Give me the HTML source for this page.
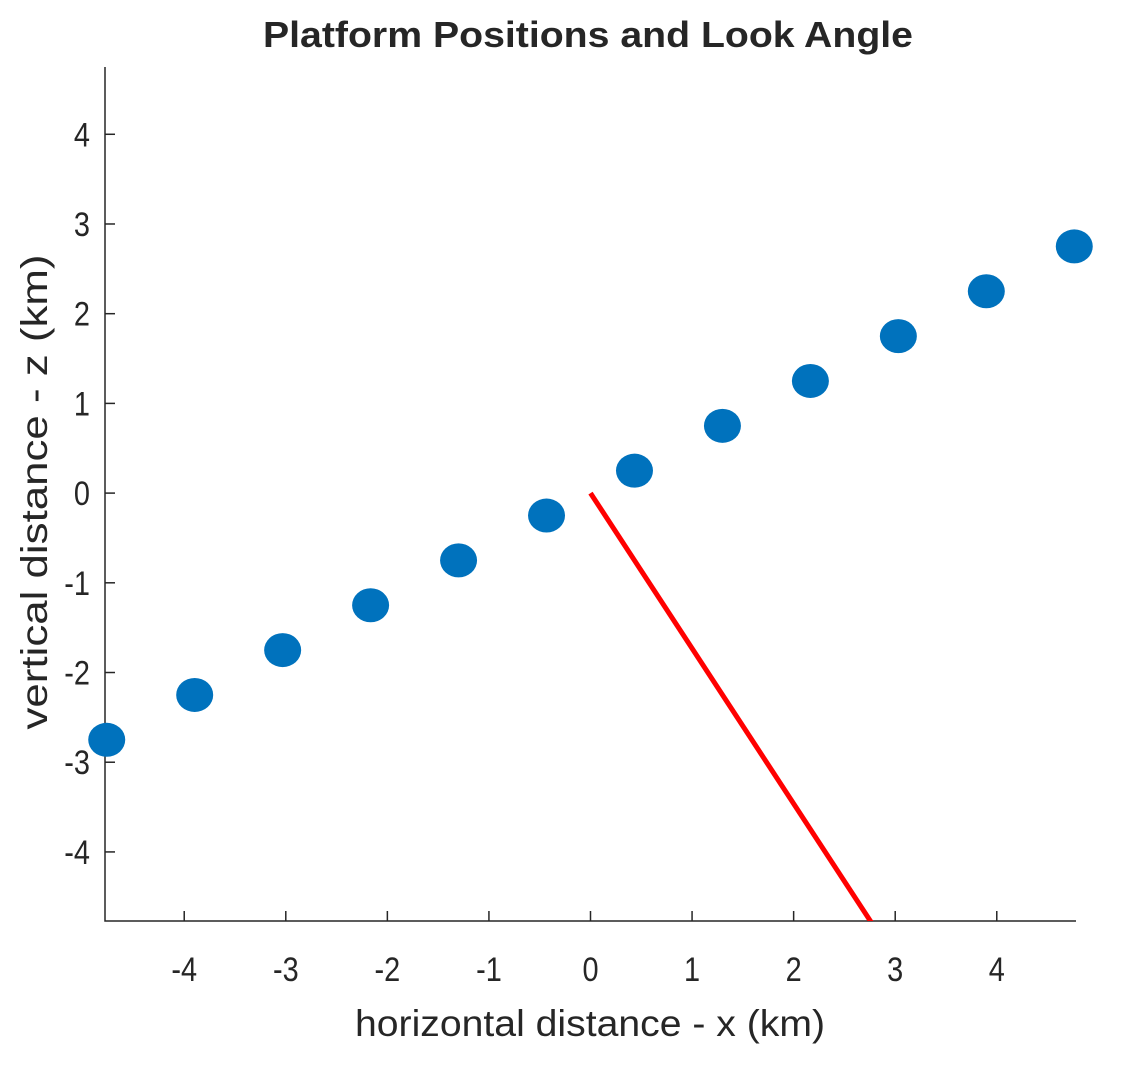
<!DOCTYPE html>
<html><head><meta charset="utf-8"><style>body{margin:0;background:#fff}svg{display:block}text{font-family:"Liberation Sans",sans-serif;fill:#262626}</style></head>
<body>
<svg id="chart" width="1125" height="1066" viewBox="0 0 1125 1066" xmlns="http://www.w3.org/2000/svg">
<text x="588" y="47" text-anchor="middle" font-size="36" font-weight="bold" fill="#000" textLength="650" lengthAdjust="spacingAndGlyphs">Platform Positions and Look Angle</text>
<g id="plot"></g>
<text x="590" y="1036" text-anchor="middle" font-size="37" textLength="470" lengthAdjust="spacingAndGlyphs">horizontal distance - x (km)</text>
<text transform="translate(47,492) rotate(-90)" text-anchor="middle" font-size="37" textLength="475" lengthAdjust="spacingAndGlyphs">vertical distance - z (km)</text>
</svg>
<script>
const xTicks=[-4,-3,-2,-1,0,1,2,3,4];
const yTicks=[-4,-3,-2,-1,0,1,2,3,4];
const pointsX=[-4.763,-3.897,-3.031,-2.165,-1.299,-0.433,0.433,1.299,2.165,3.031,3.897,4.763];
const pointsZ=[-2.75,-2.25,-1.75,-1.25,-0.75,-0.25,0.25,0.75,1.25,1.75,2.25,2.75];
const lookX=[0,2.9];
const lookZ=[0,-5.02];
const xMin=-4.78,xMax=4.78,yMin=-4.77,yMax=4.75;
const L=105,R=1076,T=67,B=921;
const sx=v=>L+(v-xMin)/(xMax-xMin)*(R-L);
const sy=v=>B-(v-yMin)/(yMax-yMin)*(B-T);
const NS="http://www.w3.org/2000/svg";
const g=document.getElementById('plot');
function mk(t,a){const e=document.createElementNS(NS,t);for(const k in a)e.setAttribute(k,a[k]);return e;}
const defs=mk('defs',{});const cp=mk('clipPath',{id:'clip'});cp.appendChild(mk('rect',{x:L,y:T,width:R-L,height:B-T}));defs.appendChild(cp);g.appendChild(defs);
const ax=mk('path',{d:`M${L},${T}V${B}H${R}`,stroke:'#262626','stroke-width':1.5,fill:'none'});


g.appendChild(ax);
xTicks.forEach(v=>{const x=sx(v);
const t=mk('line',{x1:x,x2:x,y1:B,y2:B-10,stroke:'#262626','stroke-width':1.5});


g.appendChild(t);
const l=mk('text',{transform:`translate(${x},${B+60}) scale(0.85,1)`,'text-anchor':'middle','font-size':34});l.textContent=v;


g.appendChild(l);});
yTicks.forEach(v=>{const y=sy(v);
const t=mk('line',{x1:L,x2:L+10,y1:y,y2:y,stroke:'#262626','stroke-width':1.5});


g.appendChild(t);
const l=mk('text',{transform:`translate(${L-15},${y+12}) scale(0.85,1)`,'text-anchor':'end','font-size':34});l.textContent=v;


g.appendChild(l);});
const cg=mk('g',{'clip-path':'url(#clip)'});g.appendChild(cg);
const ln=mk('line',{x1:sx(lookX[0]),y1:sy(lookZ[0]),x2:sx(lookX[1]),y2:sy(lookZ[1]),stroke:'#ff0000','stroke-width':5});


cg.appendChild(ln);
pointsX.forEach((v,i)=>{
const c=mk('ellipse',{cx:sx(v),cy:sy(pointsZ[i]),rx:18.5,ry:17,fill:'#0072BD'});


g.appendChild(c);});
</script>
</body></html>
